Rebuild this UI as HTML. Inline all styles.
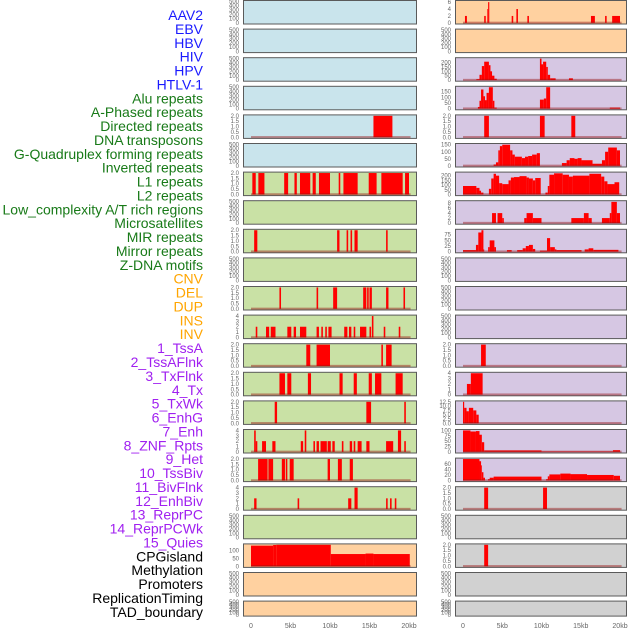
<!DOCTYPE html>
<html><head><meta charset="utf-8"><style>
body{margin:0;background:#fff;width:630px;height:630px;overflow:hidden}
svg{display:block;font-family:"Liberation Sans",sans-serif}
</style></head><body>
<svg id="c" width="630" height="630"></svg>
<script>
const labelNames=["AAV2","EBV","HBV","HIV","HPV","HTLV-1","Alu repeats","A-Phased repeats","Directed repeats","DNA transposons","G-Quadruplex forming repeats","Inverted repeats","L1 repeats","L2 repeats","Low_complexity A/T rich regions","Microsatellites","MIR repeats","Mirror repeats","Z-DNA motifs","CNV","DEL","DUP","INS","INV","1_TssA","2_TssAFlnk","3_TxFlnk","4_Tx","5_TxWk","6_EnhG","7_Enh","8_ZNF_Rpts","9_Het","10_TssBiv","11_BivFlnk","12_EnhBiv","13_ReprPC","14_ReprPCWk","15_Quies","CPGisland","Methylation","Promoters","ReplicationTiming","TAD_boundary"];
const labelGroups=[6,13,5,15,5];
const xTicks=[0,5,10,15,20];
const xTickLabels=["0","5kb","10kb","15kb","20kb"];
// segments: [startKb, endKb, value]
const L4=[[15.5,17.9,2]];
const L6=[[0.17,0.6,2],[0.93,1.7,2],[4.2,4.7,2],[5.5,5.8,2],[6.2,7.5,2],[7.8,8.2,2],[8.6,10.0,2],[11.1,11.3,2],[11.7,13.5,2],[14.9,15.9,2],[16.5,19.2,2],[19.5,20.0,2]];
const L8=[[0.4,0.8,2],[10.9,11.2,2],[12.1,12.3,2],[12.6,12.8,2],[13.1,13.5,2],[17.1,17.3,2]];
const L10=[[3.6,3.8,2],[8.3,8.5,2],[10.4,10.9,2],[14.2,14.6,2],[14.7,14.9,2],[15.0,15.3,2],[17.1,17.4,2],[19.3,19.5,2]];
const L11=[[0.6,0.8,2],[1.9,2.3,2],[2.5,3.1,2],[4.6,5.1,2],[5.4,5.7,2],[6.2,7.0,2],[8.3,8.6,2],[8.9,9.1,2],[9.4,9.6,2],[9.8,10.2,2],[11.8,12.2,2],[12.4,12.7,2],[13.0,13.2,2],[13.8,14.6,2],[15.0,15.2,2],[15.3,15.5,4],[16.8,17.0,2],[18.7,18.9,2]];
const L12=[[7.0,7.5,2],[8.3,10.0,2],[16.5,16.7,2],[17.1,17.8,2]];
const L13=[[3.6,4.3,2],[4.6,5.1,2],[7.2,7.6,2],[11.2,11.6,2],[13.0,13.4,2],[14.9,15.3,2],[15.7,16.5,2],[18.3,19.2,2]];
const L14=[[3.0,3.3,2],[14.6,15.2,2],[19.4,19.6,2]];
const L15=[[0.4,0.6,4],[0.6,0.8,2],[1.4,1.9,2],[2.7,3.1,2],[6.3,6.6,2],[6.8,7.0,4],[7.9,8.1,2],[8.3,8.6,2],[8.8,9.6,2],[9.7,10.1,2],[10.3,10.6,2],[11.5,11.7,2],[12.5,12.8,2],[13.0,13.2,2],[13.5,14.0,2],[14.6,15.0,2],[17.1,18.0,2],[18.6,19.0,4],[19.4,19.6,2]];
const L16=[[0.9,2.1,2],[2.2,2.8,2],[3.9,4.3,2],[4.4,4.6,2],[4.9,5.4,2],[9.7,10.0,2],[11.0,11.5,2],[12.5,12.9,2]];
const L17=[[0.4,0.7,2],[5.9,6.1,2],[12.3,12.7,2],[13.1,13.5,4],[17.1,17.3,2],[17.6,17.8,2],[18.2,18.4,2]];
const L19=[[0,2.8,130],[2.8,3.2,134],[3.2,10.1,135],[10.1,14.5,77],[14.5,15.5,80],[15.5,20.1,77]];
const R0=[[0.25,0.5,2],[2.7,2.9,2],[3.1,3.2,4],[3.2,3.35,6],[6.2,6.4,2],[6.8,7.0,4],[8.2,8.4,2],[16.3,16.8,2],[18.1,18.3,2],[19.0,20.0,2]];
const R2=[[1.7,2.1,10],[2.1,2.4,60],[2.4,2.7,160],[2.7,3.3,210],[3.3,3.5,170],[3.5,3.7,100],[3.7,4.0,50],[4.0,4.3,15],[9.8,10.0,245],[10.0,10.2,180],[10.2,10.6,210],[10.6,10.8,150],[10.8,11.1,60],[11.1,11.8,20],[13.5,14.0,20]];
const R3=[[1.9,2.1,15],[2.1,2.3,70],[2.3,2.6,170],[2.6,2.8,110],[2.8,3.0,75],[3.0,3.3,140],[3.3,3.8,190],[3.8,4.0,70],[4.0,4.3,10],[9.8,10.3,80],[10.3,10.6,90],[10.6,11.1,190],[18.7,20.0,10]];
const R4=[[2.7,3.3,2],[9.8,10.4,2],[13.8,14.3,2]];
const R5=[[3.9,4.2,10],[4.2,4.5,25],[4.5,4.7,110],[4.7,5.0,140],[5.0,6.0,150],[6.0,6.3,110],[6.3,6.6,80],[6.6,7.5,65],[7.5,7.9,55],[7.9,8.3,65],[8.3,8.8,70],[8.8,9.4,80],[9.4,9.8,90],[12.6,13.2,20],[13.2,13.6,40],[13.6,14.2,55],[14.2,14.6,50],[14.6,15.1,55],[15.1,16.5,40],[16.5,17.7,15],[17.7,18.1,40],[18.1,18.5,100],[18.5,19.6,130],[19.6,20.0,110]];
const R6=[[0,1.7,90],[1.7,2.1,70],[2.1,2.3,40],[2.3,2.6,20],[3.3,3.6,60],[3.6,3.9,170],[3.9,4.2,220],[4.2,4.6,200],[4.6,5.0,120],[5.0,5.8,110],[5.8,6.1,150],[6.1,6.5,180],[6.5,7.2,185],[7.2,8.1,195],[8.1,8.4,180],[8.4,8.9,170],[8.9,9.2,150],[9.2,9.9,175],[10.5,10.8,20],[10.8,11.0,90],[11.0,11.6,210],[11.6,12.7,225],[12.7,13.5,210],[13.5,14.0,190],[14.0,16.1,200],[16.1,17.6,220],[17.6,18.0,190],[18.0,18.4,140],[18.4,19.3,110],[19.3,19.9,130]];
const R7=[[3.7,4.2,4],[4.4,5.0,4],[5.0,5.2,2],[7.8,8.1,2],[8.1,8.9,4],[8.9,10.0,2],[13.8,15.4,2],[15.4,16.0,4],[16.0,16.4,2],[17.7,18.7,2],[18.7,18.9,4],[18.9,19.6,8.5],[19.6,20.0,4]];
const R8=[[0,1.65,7],[1.65,1.95,30],[1.95,2.35,85],[2.35,2.6,95],[2.6,2.7,10],[3.2,3.4,20],[3.4,4.0,50],[4.0,4.2,20],[5.6,6.2,7],[6.9,7.6,7],[7.6,8.0,15],[8.0,8.4,25],[8.4,8.9,30],[8.9,9.2,12],[9.8,10.7,5],[10.7,11.1,60],[11.1,11.7,20],[11.7,11.9,10],[11.9,15.1,7],[15.5,16.0,10],[16.0,16.6,15],[16.6,17.9,8],[17.9,19.8,8]];
const R12=[[2.3,2.9,2]];
const R13=[[0.5,1.0,2],[1.0,2.5,4]];
const R14=[[0,0.15,12.5],[0.15,0.45,9],[0.45,0.75,7],[0.75,1.3,9],[1.3,1.7,7.5],[1.7,2.0,5]];
const R15=[[0,0.95,100],[0.95,1.65,95],[1.65,2.1,97],[2.1,2.4,80],[2.4,2.7,45],[2.7,10.0,7],[10.0,19.1,2],[19.1,20.0,8]];
const R16=[[0,2.1,78],[2.1,2.3,70],[2.3,2.4,55],[2.4,2.6,30],[2.6,2.8,10],[3.2,3.4,5],[3.4,3.9,10],[3.9,10.0,14],[10.6,10.8,5],[10.8,11.0,15],[11.0,12.4,22],[12.4,13.7,25],[13.7,15.8,23],[15.8,19.2,20],[19.2,20.0,17]];
const R17=[[2.7,3.2,2],[10.2,10.7,2]];
const R19=[[2.7,3.2,2]];
const T500=[0,100,200,300,400,500], T2=[0,0.5,1,1.5,2], T4=[0,1,2,3,4];
const BLUE="#c9e4ec",GREEN="#c9e1a5",ORANGE="#ffd1a0",PURPLE="#d6c7e3",GRAY="#d1d1d1";
function cfg(segs,ticks,ymax,lab){return {segs,ticks,ymax,lab};}
const E=cfg(null,T500,500);
const leftPanels=[E,E,E,E,cfg(L4,T2,2,1),E,cfg(L6,T2,2,1),E,cfg(L8,T2,2,1),E,cfg(L10,T2,2,1),cfg(L11,T4,4),cfg(L12,T2,2,1),cfg(L13,T2,2,1),cfg(L14,T2,2,1),cfg(L15,T4,4),cfg(L16,T2,2,1),cfg(L17,T4,4),E,cfg(L19,[0,50,100],135),E,E];
const rightPanels=[cfg(R0,[0,2,4,6],6.2),E,cfg(R2,[0,50,100,150,200],245),cfg(R3,[0,50,100,150],190),cfg(R4,T2,2,1),cfg(R5,[0,50,100,150],152),cfg(R6,[0,50,100,150,200],228),cfg(R7,[0,2,4,6,8],8.6),cfg(R8,[0,25,50,75],95),E,E,E,cfg(R12,T2,2,1),cfg(R13,T4,4),cfg(R14,[0,2.5,5,7.5,10,12.5],12.5,2),cfg(R15,[0,25,50,75,100],100),cfg(R16,[0,20,40,60],78),cfg(R17,T2,2,1),E,cfg(R19,T2,2,1),E,E];
const leftBg=i=>i<6?BLUE:(i<19?GREEN:ORANGE);
const rightBg=i=>i<2?ORANGE:(i<17?PURPLE:GRAY);

const svg=document.getElementById('c');
const NS="http://www.w3.org/2000/svg";
function mk(t,a,p){const e=document.createElementNS(NS,t);for(const k in a)e.setAttribute(k,a[k]);(p||svg).appendChild(e);return e;}
// labels
const gColors=["#1a1aff","#187a18","#ffa500","#a020f0","#000000"];
let li=0;
labelGroups.forEach((n,g)=>{for(let j=0;j<n;j++){const t=mk('text',{x:203,y:20+li*13.88,'text-anchor':'end','font-size':14,fill:gColors[g]});


t.textContent=labelNames[li];li++;}});

function drawPanel(p,i,x0,x1,kb0,kbPx,bg,side){
  const top=i*28.6, h=(i==21?16:24.5), bot=top+h;
  const g=mk('g',{});
  
  
  const r=mk('rect',{x:x0+0.5,y:top+0.5,width:x1-x0-1,height:h-1,fill:bg,stroke:'#5a5a5a','stroke-width':1},g);
  
  
  const lo=-0.03*p.ymax, hi=1.02*p.ymax;
  const ys=v=>bot-1-(v-lo)/(hi-lo)*(h-2);
  const xs=k=>kb0+k*kbPx;
  p.ticks.forEach(v=>{const t=mk('text',{x:x0-4,y:ys(v)+2,'text-anchor':'end','font-size':6,fill:'#666'},g);
    
    
    t.textContent=p.lab==1?v.toFixed(1):(p.lab==2?v.toFixed(1):String(v));});
  if(p.segs){
    p.segs.forEach(s=>{const b=mk('rect',{x:xs(s[0]),y:ys(s[2]),width:Math.max(0.8,xs(s[1])-xs(s[0])),height:ys(0)-ys(s[2]),fill:'#ff0000'},g);
      
      });
    const bl=mk('rect',{x:xs(0),y:ys(0)-1.2,width:xs(20.2)-xs(0),height:2,fill:'rgba(150,20,20,0.45)'},g);
    
    
  }
}
leftPanels.forEach((p,i)=>drawPanel(p,i,243,417,251,7.9,leftBg(i),'left'));
rightPanels.forEach((p,i)=>drawPanel(p,i,455,627,463,7.85,rightBg(i),'right'));
xTicks.forEach((k,j)=>{
  [[251,7.9],[463,7.85]].forEach(([o,s])=>{const t=mk('text',{x:o+k*s,y:628,'text-anchor':'middle','font-size':7,fill:'#666'});
  
  
  t.textContent=xTickLabels[j];});
});
</script>
</body></html>
